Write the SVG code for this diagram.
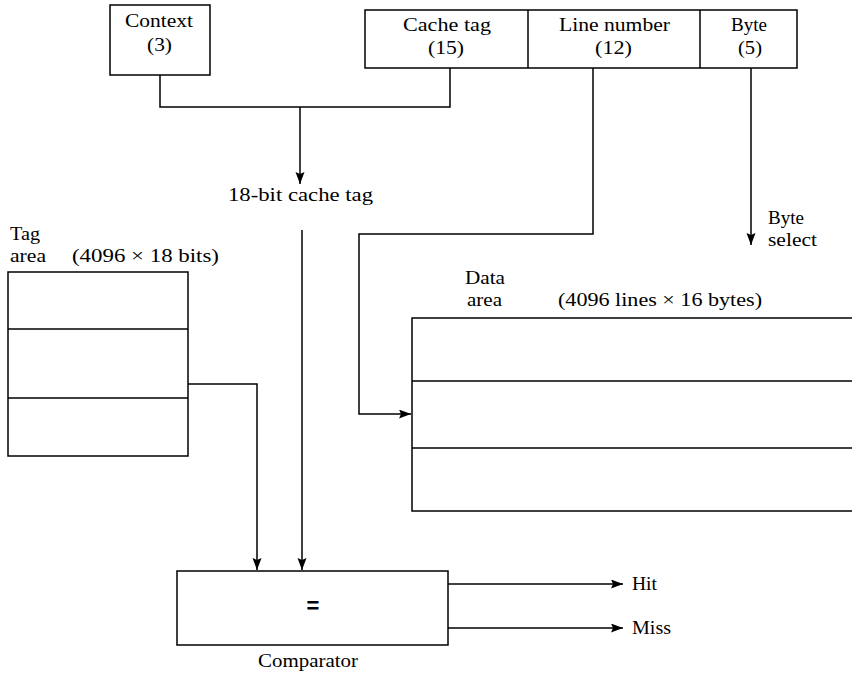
<svg xmlns="http://www.w3.org/2000/svg" width="852" height="675" viewBox="0 0 852 675">
<style>
  .box{fill:#fff;stroke:#000;stroke-width:1.5}
  .ln{fill:none;stroke:#000;stroke-width:1.5}
  text{font-family:"Liberation Serif","DejaVu Serif","Times New Roman",serif;font-size:18px;fill:#000}
</style>
<defs>
  <marker id="arr" markerUnits="userSpaceOnUse" markerWidth="13" markerHeight="10" refX="12" refY="4.5" orient="auto">
    <path d="M0,0 L12,4.5 L0,9 L2,4.5 Z" fill="#000"/>
  </marker>
</defs>
<rect width="852" height="675" fill="#fff"/>

<g id="context">
  <rect class="box" x="110" y="5" width="100" height="70"/>
  <text x="125" y="27" textLength="68" lengthAdjust="spacingAndGlyphs">Context</text>
  <text x="147" y="51" textLength="25" lengthAdjust="spacingAndGlyphs">(3)</text>
</g>
<g id="address">
  <rect class="box" x="365" y="10" width="432" height="58"/>
  <line class="ln" x1="528" y1="10" x2="528" y2="68"/>
  <line class="ln" x1="700" y1="10" x2="700" y2="68"/>
  <text x="403" y="31" textLength="88" lengthAdjust="spacingAndGlyphs">Cache tag</text>
  <text x="428" y="54" textLength="36" lengthAdjust="spacingAndGlyphs">(15)</text>
  <text x="559" y="31" textLength="111" lengthAdjust="spacingAndGlyphs">Line number</text>
  <text x="595" y="54" textLength="37" lengthAdjust="spacingAndGlyphs">(12)</text>
  <text x="731" y="31" textLength="36" lengthAdjust="spacingAndGlyphs">Byte</text>
  <text x="738" y="54" textLength="24" lengthAdjust="spacingAndGlyphs">(5)</text>
</g>
<g id="tag18">
  <text x="228" y="201" textLength="145" lengthAdjust="spacingAndGlyphs">18-bit cache tag</text>
</g>
<g id="byteselect">
  <text x="768" y="224" textLength="36" lengthAdjust="spacingAndGlyphs">Byte</text>
  <text x="768" y="246" textLength="49" lengthAdjust="spacingAndGlyphs">select</text>
</g>
<g id="tagarea">
  <text x="10" y="240" textLength="30" lengthAdjust="spacingAndGlyphs">Tag</text>
  <text x="10" y="262" textLength="36" lengthAdjust="spacingAndGlyphs">area</text>
  <text x="72" y="262" textLength="147" lengthAdjust="spacingAndGlyphs">(4096 × 18 bits)</text>
  <rect class="box" x="8" y="272" width="180" height="184"/>
  <line class="ln" x1="8" y1="329" x2="188" y2="329"/>
  <line class="ln" x1="8" y1="398" x2="188" y2="398"/>
</g>
<g id="dataarea">
  <text x="465" y="284" textLength="40" lengthAdjust="spacingAndGlyphs">Data</text>
  <text x="467" y="306" textLength="35" lengthAdjust="spacingAndGlyphs">area</text>
  <text x="558" y="306" textLength="204" lengthAdjust="spacingAndGlyphs">(4096 lines × 16 bytes)</text>
  <path class="ln" d="M860,318 H412 V511 H860"/>
  <line class="ln" x1="412" y1="381" x2="860" y2="381"/>
  <line class="ln" x1="412" y1="448" x2="860" y2="448"/>
</g>
<g id="comparator">
  <rect class="box" x="177" y="571" width="271" height="74"/>
  <text x="313" y="613" text-anchor="middle" style="font-family:'Liberation Sans','DejaVu Sans',Arial,sans-serif;font-weight:bold;font-size:22px">=</text>
  <text x="258" y="667" textLength="100" lengthAdjust="spacingAndGlyphs">Comparator</text>
</g>
<g id="outputs">
  <text x="632" y="590" textLength="25" lengthAdjust="spacingAndGlyphs">Hit</text>
  <text x="632" y="634" textLength="39" lengthAdjust="spacingAndGlyphs">Miss</text>
</g>

<g id="connectors">
  <path class="ln" d="M160,75 V107 H450 V68"/>
  <path class="ln" d="M300,107 V184" marker-end="url(#arr)"/>
  <path class="ln" d="M302,230 V570" marker-end="url(#arr)"/>
  <path class="ln" d="M188,384 H257 V570" marker-end="url(#arr)"/>
  <path class="ln" d="M593,68 V234 H359 V414 H411" marker-end="url(#arr)"/>
  <path class="ln" d="M751,68 V245" marker-end="url(#arr)"/>
  <path class="ln" d="M448,584 H623" marker-end="url(#arr)"/>
  <path class="ln" d="M448,628 H623" marker-end="url(#arr)"/>
</g>
</svg>
